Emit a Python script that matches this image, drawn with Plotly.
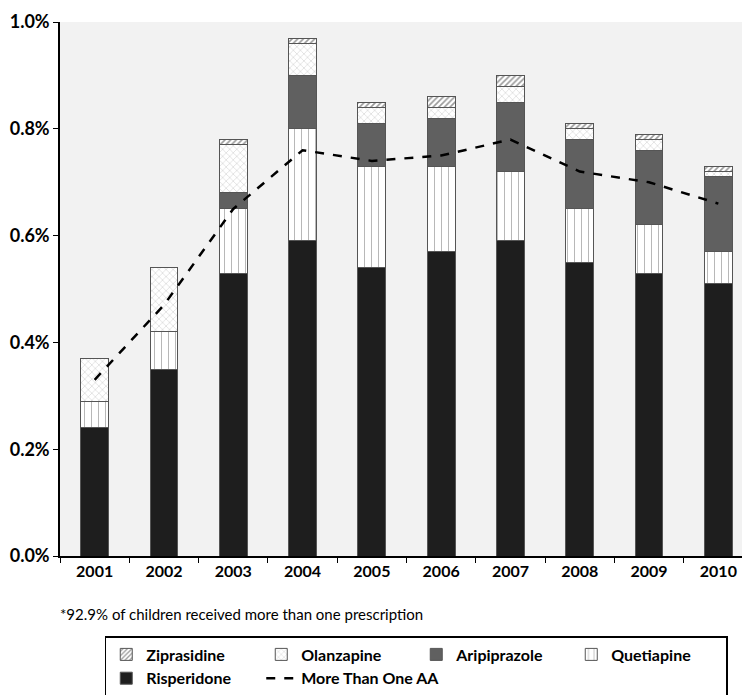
import plotly.graph_objects as go

years = ["2001", "2002", "2003", "2004", "2005", "2006", "2007", "2008", "2009", "2010"]
# segment heights (percent of children)
risperidone = [0.24, 0.35, 0.53, 0.59, 0.54, 0.57, 0.59, 0.55, 0.53, 0.51]
quetiapine = [0.05, 0.07, 0.12, 0.21, 0.19, 0.16, 0.13, 0.10, 0.09, 0.06]
aripiprazole = [0.00, 0.00, 0.03, 0.10, 0.08, 0.09, 0.13, 0.13, 0.14, 0.14]
olanzapine = [0.08, 0.12, 0.09, 0.06, 0.03, 0.02, 0.03, 0.02, 0.02, 0.01]
ziprasidone = [0.00, 0.00, 0.01, 0.01, 0.01, 0.02, 0.02, 0.01, 0.01, 0.01]
more_than_one = [0.33, 0.47, 0.65, 0.76, 0.74, 0.75, 0.78, 0.72, 0.70, 0.66]
y_ticks = [0.0, 0.2, 0.4, 0.6, 0.8, 1.0]
y_ticklabels = ["0.0%", "0.2%", "0.4%", "0.6%", "0.8%", "1.0%"]
footnote = "*92.9% of children received more than one prescription"

FONT = "Lato"
outline = dict(color="#555555", width=1)

fig = go.Figure()
fig.add_bar(x=years, y=risperidone, name="<b>Risperidone</b>", legendrank=5,
            marker=dict(color="#1e1e1e", line=outline))
fig.add_bar(x=years, y=quetiapine, name="<b>Quetiapine</b>", legendrank=4,
            marker=dict(color="white", line=outline,
                        pattern=dict(shape="|", fgcolor="#555555", bgcolor="white",
                                     size=7, solidity=0.12)))
fig.add_bar(x=years, y=aripiprazole, name="<b>Aripiprazole</b>", legendrank=3,
            marker=dict(color="#606060", line=outline))
fig.add_bar(x=years, y=olanzapine, name="<b>Olanzapine</b>", legendrank=2,
            marker=dict(color="white", line=outline,
                        pattern=dict(shape="x", fgcolor="#777777", bgcolor="white",
                                     size=5, solidity=0.15)))
fig.add_bar(x=years, y=ziprasidone, name="<b>Ziprasidine</b>", legendrank=1,
            marker=dict(color="white", line=outline,
                        pattern=dict(shape="/", fgcolor="#333333", bgcolor="white",
                                     size=4, solidity=0.4)))
fig.add_scatter(x=years, y=more_than_one, name="<b>More Than One AA</b>", legendrank=6,
                mode="lines", line=dict(color="black", width=2.5, dash="dash"))

fig.update_layout(
    barmode="stack",
    bargap=0.6,
    width=750, height=695,
    margin=dict(l=52, r=5, t=14, b=147, autoexpand=False),
    paper_bgcolor="white",
    plot_bgcolor="#f2f2f2",
    font=dict(family=FONT, size=15, color="black"),
    legend=dict(orientation="h", xref="container", yref="container",
                x=0.129, y=0.0964, xanchor="left", yanchor="top",
                bordercolor="black", borderwidth=1.5, bgcolor="white",
                entrywidth=110, entrywidthmode="pixels",
                font=dict(family=FONT, size=16), traceorder="normal",
                tracegroupgap=0, itemwidth=30),
    annotations=[dict(text=footnote, xref="paper", yref="paper", x=-0.003, y=-0.108,
                      xanchor="left", yanchor="middle", showarrow=False,
                      font=dict(family=FONT, size=15))],
)
fig.update_yaxes(range=[0, 1.0001], tickvals=y_ticks, ticktext=["<b>%s</b>" % t for t in y_ticklabels],
                 showgrid=False, zeroline=False, showline=True, linecolor="black", linewidth=1.5,
                 ticks="outside", ticklen=5, tickcolor="black", tickfont=dict(size=18),
                 automargin=False, ticklabeloverflow="allow")
fig.update_xaxes(tickvals=years, ticktext=["<b>%s</b>" % y for y in years], showgrid=False,
                 showline=True, linecolor="black", linewidth=1.5, ticks="outside",
                 tickson="boundaries", ticklen=5, tickcolor="black", tickfont=dict(size=16),
                 automargin=False)

fig.write_html("out.html")
